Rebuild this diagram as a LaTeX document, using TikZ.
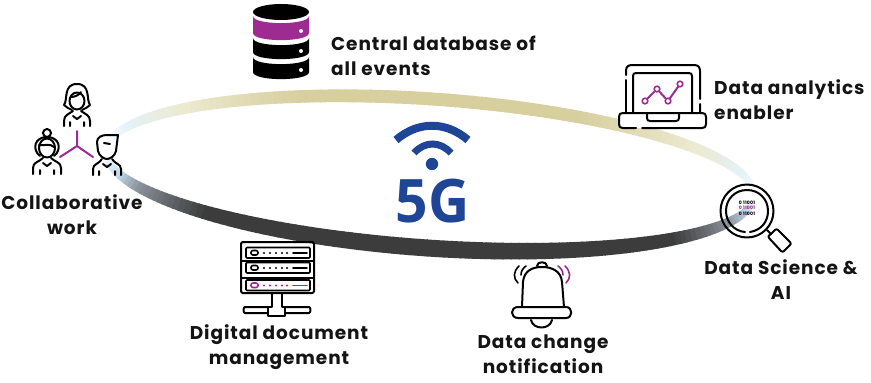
\documentclass[tikz,border=0pt]{standalone}
\usepackage{fontspec}
\setmainfont[LetterSpace=5]{Poppins}
\newfontfamily\fgfont{Open Sans}
\definecolor{iconpurple}{HTML}{9E2B92}
\definecolor{fgblue}{HTML}{1F4597}
\definecolor{ringtan}{HTML}{D8CF9F}
\definecolor{ringcream}{HTML}{ECE9CF}
\definecolor{ringice}{HTML}{E4F2F9}
\definecolor{ringsteel}{HTML}{8A929B}
\definecolor{ringdark}{HTML}{3C3C3C}
\definecolor{ringblue}{HTML}{C5DBEE}
\tikzset{
  lbl/.style={font=\bfseries\fontsize{18.5}{25}\selectfont,align=center,inner sep=0pt,text=black!92},
  lblL/.style={lbl,align=left},
  ico/.style={draw=black,line width=2pt,line cap=round,line join=round},
  icop/.style={draw=iconpurple,line width=2pt,line cap=round,line join=round},
}
\newcommand{\ringpoint}[2]{%
  \pgfmathsetmacro{\myux}{325*cos(#1)}%
  \pgfmathsetmacro{\myuy}{-74.5*sin(#1)}%
  \coordinate (#2) at ({430+\myux*cos(4)-\myuy*sin(4)},{173.5+\myux*sin(4)+\myuy*cos(4)});%
}
% arc of the ring: from angle, to angle, from colour, to colour
\newcommand{\ringarc}[4]{%
  \pgfmathsetmacro{\mystepn}{int((#2-#1)/1.5)}%
  \foreach \myk in {1,...,\mystepn}{%
    \pgfmathsetmacro{\myta}{#1+(#2-#1)*(\myk-1)/\mystepn}%
    \pgfmathsetmacro{\mytb}{#1+(#2-#1)*\myk/\mystepn+0.25}%
    \pgfmathsetmacro{\mytm}{(\myta+\mytb)/2}%
    \pgfmathsetmacro{\mypc}{100*(1-\myk/\mystepn)}%
    \pgfmathsetmacro{\mysn}{sin(\mytm)}%
    \pgfmathsetmacro{\mylw}{2+(13-2*\mysn)*pow(abs(\mysn),0.6)}%
    \ringpoint{\myta}{ra}\ringpoint{\mytb}{rb}%
    \draw[line width=\mylw pt,color=#3!\mypc!#4] (ra)--(rb);
  }%
}
\begin{document}
\begin{tikzpicture}[x=1pt,y=-1pt]
\useasboundingbox (0,0) rectangle (871,383);
\fill[white] (0,0) rectangle (871,383);
% ring
\ringarc{2}{18}{white}{ringice}
\ringarc{18}{38}{ringice}{ringcream}
\ringarc{38}{65}{ringcream}{ringtan}
\ringarc{65}{115}{ringtan}{ringtan}
\ringarc{115}{140}{ringtan}{ringcream}
\ringarc{140}{160}{ringcream}{ringice}
\ringarc{160}{176}{ringice}{white}
\ringarc{184}{198}{white}{ringblue}
\ringarc{198}{208}{ringblue}{ringsteel}
\ringarc{208}{228}{ringsteel}{ringdark}
\ringarc{228}{320}{ringdark}{ringdark}
\ringarc{320}{338}{ringdark}{ringsteel}
\ringarc{338}{350}{ringsteel}{ringblue}
\ringarc{350}{358}{ringblue}{white}
% wifi + 5G
\draw[fgblue,line width=8pt] (396,140) .. controls (418,121) and (446,121) .. (468,140);
\draw[fgblue,line width=7pt] (414,153) .. controls (425,141) and (440,141) .. (451,153);
\fill[fgblue] (432,164) circle (6.2);
\node[inner sep=0pt,text=fgblue] (fiveg) at (432.5,201.5) {\scalebox{.95}[1]{\fgfont\bfseries\fontsize{60}{60}\selectfont 5G}};
% database
\fill (281,12) ellipse [x radius=28,y radius=8];
\fill[iconpurple] (253,16) .. controls (253,25.5) and (309,25.5) .. (309,16) -- (309,33) .. controls (309,42.5) and (253,42.5) .. (253,33) -- cycle;
\fill (253,38) .. controls (253,47.5) and (309,47.5) .. (309,38) -- (309,52) .. controls (309,61.5) and (253,61.5) .. (253,52) -- cycle;
\fill (253,57) .. controls (253,66.5) and (309,66.5) .. (309,57) -- (309,72) .. controls (309,81.5) and (253,81.5) .. (253,72) -- cycle;
\fill[white] (301,31) circle (2) (301,51) circle (2) (301,70) circle (2);
% people
\begin{scope}[shift={(77,100)}]
\draw[ico] (-5,10) -- (-9,8) -- (-13,5) .. controls (-9,0) and (-14,-16) .. (0,-16) .. controls (14,-16) and (9,0) .. (13,5) -- (9,8) -- (5,10);
\draw[ico] (0,1) ellipse [x radius=7.5,y radius=8.5];
\draw[ico] (-6,-3) .. controls (-2,-3) and (2,-5) .. (4,-8);
\draw[ico] (-13,26) -- (-13,21) .. controls (-13,15) and (-8,14) .. (-4,11) (13,26) -- (13,21) .. controls (13,15) and (8,14) .. (4,11);
\draw[ico] (-7,26) -- (-7,22) (7,26) -- (7,22) (-4,16) -- (0,19) -- (4,16);
\end{scope}
\begin{scope}[shift={(47,146)}]
\draw[ico] (0,-13) circle (4);
\draw[ico] (-7,10) .. controls (-15,4) and (-13,-9) .. (0,-9) .. controls (13,-9) and (15,4) .. (7,10);
\draw[ico] (0,2) ellipse [x radius=8,y radius=9.5];
\draw[ico] (-8,-1) .. controls (-3,0) and (3,-3) .. (7,1);
\draw[ico] (-14,28) -- (-14,22) .. controls (-14,16) and (-8,16) .. (-4,12) (14,28) -- (14,22) .. controls (14,16) and (8,16) .. (4,12);
\draw[ico] (-7,28) -- (-7,24) (7,28) -- (7,24) (-4,17) -- (0,20) -- (4,17);
\end{scope}
\begin{scope}[shift={(107,148)}]
\draw[ico] (-9,3) -- (-10,-6) .. controls (-10,-11) and (-5,-13) .. (0,-13) -- (11,-13) -- (10,-5) -- (9,3) .. controls (8,8) and (3,11) .. (0,11) .. controls (-3,11) and (-8,8) .. (-9,3);
\draw[ico] (-3,-5) -- (3,-4);
\draw[ico] (-14,27) -- (-14,21) .. controls (-14,16) and (-8,16) .. (-5,11) (14,27) -- (14,21) .. controls (14,16) and (8,16) .. (5,11);
\draw[ico] (-8,27) -- (-8,23) (8,27) -- (8,23) (-4,16) -- (0,19) -- (4,16);
\end{scope}
\draw[icop] (77,131) -- (77,146) (60,157) -- (77,146) -- (93,157);
% laptop
\draw[ico] (626,75) -- (626,71) .. controls (626,67) and (628,65) .. (632,65) -- (694,65) .. controls (698,65) and (700,67) .. (700,71) -- (700,99) (700,104) -- (700,113);
\draw[ico] (626,80) -- (626,113);
\draw[ico] (633,113) -- (633,76) .. controls (633,74) and (634,73) .. (636,73) -- (689,73) .. controls (691,73) and (692,74) .. (692,76) -- (692,113);
\fill[white] (619,113) rectangle (706,128);
\draw[ico] (623,113) -- (702,113) .. controls (705,113) and (706,114) .. (706,117) -- (706,124) .. controls (706,127) and (705,128) .. (702,128) -- (642,128) (636,128) -- (623,128) .. controls (620,128) and (619,127) .. (619,124) -- (619,117) .. controls (619,114) and (620,113) .. (623,113);
\draw[ico] (647,113) -- (647,118) .. controls (647,120) and (648,121) .. (650,121) -- (676,121) .. controls (678,121) and (679,120) .. (679,118) -- (679,113);
\draw[icop] (645,101) -- (657,89) -- (668,101) -- (680,84);
\foreach \p in {(645,101),(657,89),(668,101),(680,84)} \draw[icop,fill=white,line width=1.6pt] \p circle (2.8);
% magnifier
\draw[ico] (747,211) circle (26.5);
\draw[ico] (750,232) .. controls (762,230) and (768,221) .. (768,211) .. controls (768,199) and (759,190) .. (747,190) .. controls (735,190) and (726,199) .. (726,211) .. controls (726,222) and (734,231) .. (745,232);
\draw[ico] (767,230) -- (771,234);
\draw[ico] (771,234) -- (775,230) .. controls (776,229) and (777,229) .. (778,230) -- (790,242) .. controls (791,243) and (791,244) .. (790,245) -- (784,251) .. controls (783,252) and (782,252) .. (781,251) -- (769,238) .. controls (768,237) and (768,236) .. (771,234);
\node[inner sep=0pt,align=center,font=\bfseries\fontsize{4.6}{5.3}\selectfont] (bits) at (747,208) {0 11001\\\textcolor{iconpurple}{0 11001}\\0 11001};
% server
\draw[ico,rounded corners=1.5pt] (241,242) rectangle (314,293);
\draw[ico] (241,261) -- (314,261) (241,278) -- (314,278);
\foreach \yy/\myst/\mycol in {253/ico/black,268/ico/black,285.5/icop/iconpurple}{
  \draw[ico,line width=1.6pt,rounded corners=1pt] (246,\yy-5.5) rectangle (310,\yy+5);
  \draw[\myst,line width=1.6pt,rounded corners=2pt] (251,\yy-2.5) rectangle (258,\yy+2);
  \draw[\myst,line width=1.6pt] (293,\yy) -- (307,\yy);
  \foreach \xx in {264,270,276,282,287} \fill[\mycol] (\xx,\yy) circle (1.1);
}
\draw[ico] (272,293) -- (272,307) -- (268,307) -- (268,316) -- (285,316) -- (285,307) -- (282,307) -- (282,293);
\draw[ico] (268,307) -- (245,307) .. controls (243,307) and (243,313) .. (245,313) -- (268,313);
\draw[ico] (285,307) -- (309,307) .. controls (311,307) and (311,313) .. (309,313) -- (285,313);
% bell
\draw[ico] (522,307) -- (523,282) .. controls (524,271) and (532,267) .. (542,267) .. controls (552,267) and (561,271) .. (562,282) -- (564,307);
\draw[ico] (537,266) .. controls (537,261) and (547,261) .. (547,266);
\draw[ico] (530,318) -- (518,318) .. controls (510,318) and (510,307) .. (518,307) -- (566,307) .. controls (573,307) and (573,318) .. (566,318) -- (527,318);
\draw[ico] (531,320) .. controls (533,330) and (550,330) .. (552,320);
\draw[ico,line width=1.6pt] (518,283) .. controls (513,278) and (513,272) .. (519,266);
\draw[ico,line width=1.6pt] (521,275) .. controls (521,271) and (523,268) .. (526,266);
\draw[icop,line width=1.6pt] (566,283) .. controls (571,278) and (571,272) .. (565,266);
\draw[icop,line width=1.6pt] (563,275) .. controls (563,271) and (561,268) .. (558,266);
% labels
\node[lbl] (collab) at (72,215) {Collaborative\\work};
\node[lblL,anchor=west] (central) at (331,55.5) {Central database of\\all events};
\node[lblL,anchor=west] (analytics) at (714,100) {Data analytics\\enabler};
\node[lbl] (science) at (781,280) {Data Science \&\\AI};
\node[lbl] (docs) at (279,347) {Digital document\\management};
\node[lbl] (notify) at (543,354.5) {Data change\\notification};
\end{tikzpicture}
\end{document}
